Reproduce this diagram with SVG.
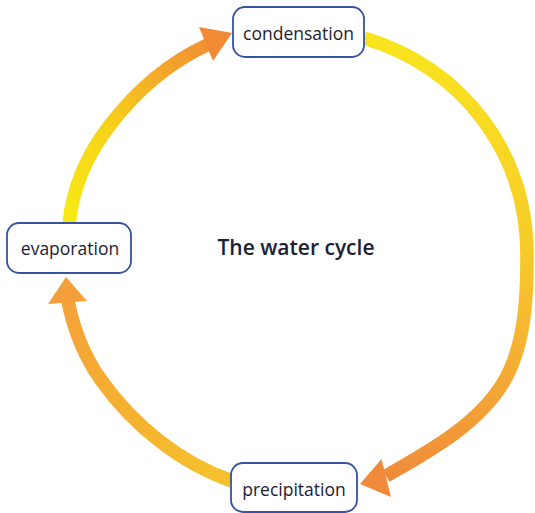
<svg xmlns="http://www.w3.org/2000/svg" width="535" height="513" viewBox="0 0 535 513">
  <style>
    .node rect { fill: #ffffff; stroke: #3553a0; stroke-width: 1.8; }
    .node text { font-family: "Open Sans", "Noto Sans", "Liberation Sans", sans-serif; font-size: 17.5px; fill: #1b2133; text-anchor: middle; }
    .title { font-family: "Open Sans", "Noto Sans", "Liberation Sans", sans-serif; font-size: 21px; font-weight: 600; fill: #1b2133; text-anchor: middle; }
    .shaft { fill: none; stroke-width: 13.5; stroke-linecap: butt; stroke-linejoin: round; }
  </style>
  <defs>
    <linearGradient id="gRight" gradientUnits="userSpaceOnUse" x1="400" y1="38" x2="380" y2="480">
      <stop offset="0" stop-color="#f9e41e"/>
      <stop offset="0.45" stop-color="#f7cc28"/>
      <stop offset="0.75" stop-color="#f4ab34"/>
      <stop offset="1" stop-color="#f08a3a"/>
    </linearGradient>
    <linearGradient id="gTopLeft" gradientUnits="userSpaceOnUse" x1="70" y1="222" x2="225" y2="38">
      <stop offset="0" stop-color="#f7ea12"/>
      <stop offset="0.4" stop-color="#f6d21a"/>
      <stop offset="0.75" stop-color="#f3a52a"/>
      <stop offset="1" stop-color="#f08a34"/>
    </linearGradient>
    <linearGradient id="gBottomLeft" gradientUnits="userSpaceOnUse" x1="232" y1="481" x2="66" y2="285">
      <stop offset="0" stop-color="#f4c22c"/>
      <stop offset="0.5" stop-color="#f5b030"/>
      <stop offset="1" stop-color="#f4a03a"/>
    </linearGradient>
  </defs>

  <rect width="535" height="513" fill="#ffffff"/>

  <!-- curved arrows of the cycle -->
  <g id="connectors">
    <!-- condensation -> precipitation -->
    <path class="shaft" stroke="url(#gRight)" d="M364,38 C462.5,68 527,152 527,255 C527,298 525.2,346.2 503,383 C477,425.5 428.5,451.5 386,476"/>
    <polygon fill="#f08a3a" points="360,484 381.5,459 391,497"/>

    <!-- evaporation -> condensation -->
    <path class="shaft" stroke="url(#gTopLeft)" d="M69,224 C72.6,188 87.9,153.4 110,125 C133,95 166,64 208,44.5"/>
    <polygon fill="#f08a34" points="232,33 199,27 213,61"/>

    <!-- precipitation -> evaporation -->
    <path class="shaft" stroke="url(#gBottomLeft)" d="M232,481 C179.7,462.8 132.9,424.8 101,380 C84.8,357.2 73.6,329.4 68,301"/>
    <polygon fill="#f4a03a" points="66,277 48,304 87,301"/>
  </g>

  <g id="node-condensation" class="node">
    <rect x="233" y="7" width="131" height="50" rx="12"/>
    <text x="298.5" y="40">condensation</text>
  </g>

  <g id="node-evaporation" class="node">
    <rect x="7" y="223" width="124" height="50" rx="12"/>
    <text x="70" y="255">evaporation</text>
  </g>

  <g id="node-precipitation" class="node">
    <rect x="231" y="463" width="126" height="49" rx="12"/>
    <text x="294" y="496">precipitation</text>
  </g>

  <g id="title">
    <text class="title" x="296" y="255">The water cycle</text>
  </g>
</svg>
